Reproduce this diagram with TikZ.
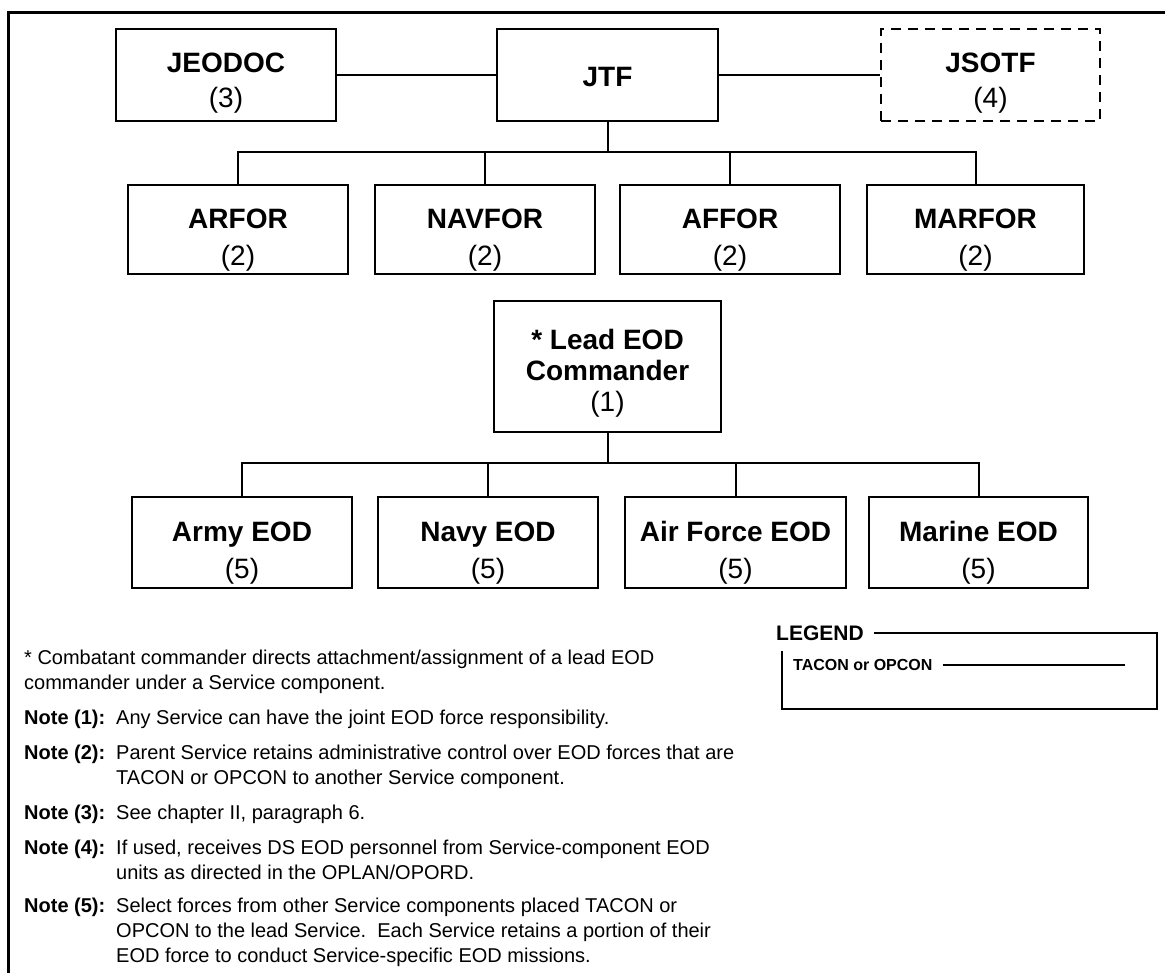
\documentclass[tikz,border=0pt]{standalone}
\usepackage{fontspec}
\setmainfont{Liberation Sans}
% invisible strut that lowers the text block inside a box
\newcommand{\boxlift}[1]{\rule{0pt}{#1}}
\begin{document}
\begin{tikzpicture}[x=1pt,y=-1pt,
  unit/.style={draw, line width=2.2pt, inner sep=0pt, align=center,
    font=\fontsize{28}{37}\selectfont, minimum width=220pt, minimum height=91pt},
  dashedunit/.style={unit, dash pattern=on 10pt off 7pt},
  link/.style={line width=2pt},
  frameline/.style={line width=3pt},
  notelabel/.style={anchor=base west, inner sep=0pt, font=\fontsize{20}{25}\selectfont\bfseries},
  notetext/.style={anchor=base west, inner sep=0pt, align=left, font=\fontsize{20}{25}\selectfont},
  legendtitle/.style={anchor=west, inner sep=0pt, font=\fontsize{21}{25}\selectfont\bfseries},
  legendentry/.style={anchor=west, inner sep=0pt, font=\fontsize{16}{20}\selectfont\bfseries}
]
\path[use as bounding box] (0,0) rectangle (1165,973);

% page frame (top and left edges)
\coordinate (frameTR) at (1165,13);
\coordinate (frameTL) at (8,13);
\coordinate (frameBL) at (8,973);
\draw[frameline] (frameTR) -- (frameTL) -- (frameBL);

% top row
\node[unit, font=\fontsize{28}{35}\selectfont, minimum width=220pt, minimum height=92pt] (jeodoc) at (226,75)
  {\boxlift{35pt}\textbf{JEODOC}\\(3)};
\node[unit, minimum width=221pt, minimum height=92pt] (jtf) at (607.5,75) {\boxlift{24pt}\textbf{JTF}};
\node[dashedunit, font=\fontsize{28}{35}\selectfont, minimum width=219pt, minimum height=92pt] (jsotf) at (990.5,75)
  {\boxlift{35pt}\textbf{JSOTF}\\(4)};
\draw[link] (jeodoc.east) -- (jtf.west);
\draw[link] (jtf.east) -- (jsotf.west);

% service components
\node[unit, minimum height=89pt] (arfor)  at (238,229.5) {\boxlift{41pt}\textbf{ARFOR}\\(2)};
\node[unit, minimum height=89pt] (navfor) at (485,229.5) {\boxlift{41pt}\textbf{NAVFOR}\\(2)};
\node[unit, minimum height=89pt] (affor)  at (730,229.5) {\boxlift{41pt}\textbf{AFFOR}\\(2)};
\node[unit, minimum height=89pt, minimum width=217pt] (marfor) at (975.5,229.5) {\boxlift{41pt}\textbf{MARFOR}\\(2)};
\coordinate (busA) at (607.5,152);
\draw[link] (jtf.south) -- (busA);
\draw[link] (arfor.north) |- (busA) -| (marfor.north);
\draw[link] (navfor.north) -- (navfor.north |- busA);
\draw[link] (affor.north) -- (affor.north |- busA);

% lead EOD commander
\node[unit, font=\fontsize{28}{31}\selectfont, minimum width=227pt, minimum height=131pt] (lead) at (607.5,366.5)
  {\boxlift{33pt}\textbf{* Lead EOD}\\\textbf{Commander}\\(1)};

% service EOD forces
\node[unit] (army)   at (242,542.5)   {\boxlift{41pt}\textbf{Army EOD}\\(5)};
\node[unit] (navy)   at (488,542.5)   {\boxlift{41pt}\textbf{Navy EOD}\\(5)};
\node[unit, minimum width=221pt] (airf) at (735.5,542.5) {\boxlift{41pt}\textbf{Air Force EOD}\\(5)};
\node[unit, minimum width=219pt] (marine) at (978.5,542.5) {\boxlift{41pt}\textbf{Marine EOD}\\(5)};
\coordinate (busB) at (607.5,463);
\draw[link] (lead.south) -- (busB);
\draw[link] (army.north) |- (busB) -| (marine.north);
\draw[link] (navy.north) -- (navy.north |- busB);
\draw[link] (airf.north) -- (airf.north |- busB);

% notes (a multi-line node sits on the baseline of its last line)
\node[notetext] (star) at (24,689)
  {* Combatant commander directs attachment/assignment of a lead EOD\\commander under a Service component.};
\node[notelabel] (n1l) at (24,724) {Note (1):};
\node[notetext]  (n1t) at (116,724) {Any Service can have the joint EOD force responsibility.};
\node[notelabel] (n2l) at (24,759) {Note (2):};
\node[notetext]  (n2t) at (116,784) {Parent Service retains administrative control over EOD forces that are\\TACON or OPCON to another Service component.};
\node[notelabel] (n3l) at (24,819) {Note (3):};
\node[notetext]  (n3t) at (116,819) {See chapter II, paragraph 6.};
\node[notelabel] (n4l) at (24,854) {Note (4):};
\node[notetext]  (n4t) at (116,879) {If used, receives DS EOD personnel from Service-component EOD\\units as directed in the OPLAN/OPORD.};
\node[notelabel] (n5l) at (24,912) {Note (5):};
\node[notetext]  (n5t) at (116,962) {Select forces from other Service components placed TACON or\\OPCON to the lead Service.\ \ Each Service retains a portion of their\\EOD force to conduct Service-specific EOD missions.};

% legend
\node[legendtitle] (legend) at (776,633) {LEGEND};
\coordinate (legTR) at (1157,633);
\coordinate (legBR) at (1157,709);
\coordinate (legBL) at (782,709);
\coordinate (legTL) at (782,651);
\draw[link] ([xshift=10pt]legend.east) -- (legTR) -- (legBR) -- (legBL) -- (legTL);
\node[legendentry] (tacon) at (793,665) {TACON or OPCON};
\coordinate (taconEnd) at (1125,665);
\draw[link] ([xshift=10pt]tacon.east) -- (taconEnd);
\end{tikzpicture}
\end{document}
